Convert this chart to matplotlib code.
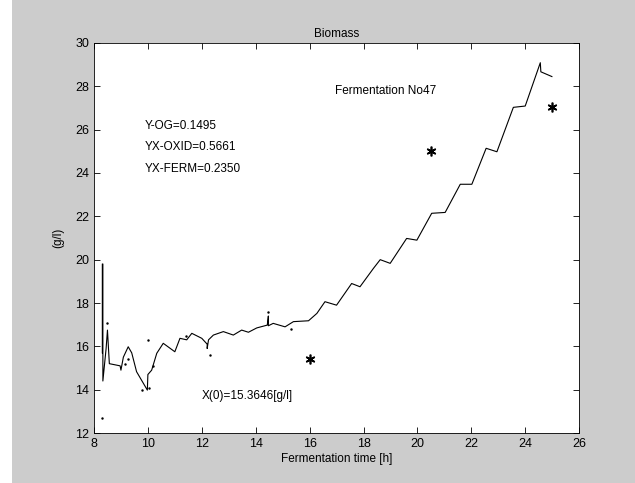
import matplotlib
matplotlib.use("Agg")
from matplotlib import pyplot as plt
from matplotlib.patches import Rectangle

plt.rcParams['font.family'] = ['Liberation Sans', 'DejaVu Sans']

# biomass trace
t = [8.31, 8.31, 8.33, 8.33, 8.45, 8.5, 8.57, 8.97, 9.0, 9.09, 9.27, 9.4, 9.58, 9.98, 10.0,
     10.14, 10.33, 10.57, 11.0, 11.19, 11.44, 11.63, 12.0, 12.2, 12.2, 12.25, 12.43, 12.8,
     13.17, 13.48, 13.73, 14.04, 14.43, 14.47, 14.47, 14.65, 15.09, 15.4, 15.96, 16.27,
     16.57, 17.0, 17.56, 17.87, 18.37, 18.62, 18.99, 19.6, 19.98, 20.53, 21.03, 21.59,
     22.02, 22.55, 22.95, 23.56, 24.0, 24.56, 24.58, 24.99]
x = [15.7, 19.8, 19.8, 14.4, 15.9, 16.75, 15.2, 15.1, 14.9, 15.5, 15.98, 15.7, 14.83, 13.98,
     14.7, 14.9, 15.68, 16.14, 15.75, 16.37, 16.3, 16.6, 16.37, 16.1, 15.9, 16.3, 16.52,
     16.68, 16.52, 16.75, 16.65, 16.85, 16.98, 17.4, 16.95, 17.06, 16.9, 17.14, 17.18,
     17.52, 18.06, 17.9, 18.9, 18.75, 19.6, 20.0, 19.83, 20.98, 20.9, 22.14, 22.18, 23.48,
     23.48, 25.14, 24.98, 27.03, 27.09, 29.09, 28.67, 28.45]

# scattered raw points
t_dots = [8.3, 8.5, 9.15, 9.25, 9.8, 10.0, 10.05, 10.2, 11.4, 12.3, 14.45, 15.3]
x_dots = [12.7, 17.1, 15.2, 15.4, 14.0, 16.3, 14.1, 15.1, 16.5, 15.6, 17.6, 16.8]

# offline measurements
t_off = [16.0, 20.5, 25.0]
x_off = [15.4, 25.0, 27.05]

fig = plt.figure(figsize=(6.35, 4.83), dpi=100, facecolor='#cccccc')
# white strip at the left edge of the screenshot
fig.patches.append(Rectangle((0, 0), 12 / 635, 1, transform=fig.transFigure,
                             facecolor='white', edgecolor='none'))
ax = fig.add_axes([0.148, 0.1035, 0.764, 0.8075])
ax.plot(t, x, color='black', linewidth=0.8)
ax.plot(t_dots, x_dots, '.', color='black', markersize=1.5)
ax.plot(t_off, x_off, linestyle='none', marker=(6, 2, 0), color='black',
        markersize=7, markeredgewidth=1.2)

ax.set_xlim(8, 26)
ax.set_ylim(12, 30)
ax.set_xticks(range(8, 27, 2))
ax.set_yticks(range(12, 31, 2))
ax.tick_params(direction='in', top=True, right=True, labelsize=9, length=4, width=0.6)
for s in ax.spines.values():
    s.set_linewidth(0.6)

ax.set_title("Biomass", fontsize=8.5, pad=4)
ax.set_xlabel("Fermentation time [h]", fontsize=8.5, labelpad=2)
ax.set_ylabel("(g/l)", fontsize=8.5, labelpad=8)

ax.text(9.9, 26.15, "Y-OG=0.1495", fontsize=8.5, va='center')
ax.text(9.9, 25.2, "YX-OXID=0.5661", fontsize=8.5, va='center')
ax.text(9.9, 24.2, "YX-FERM=0.2350", fontsize=8.5, va='center')
ax.text(16.95, 27.8, "Fermentation No47", fontsize=8.5, va='center')
ax.text(12.0, 13.7, "X(0)=15.3646[g/l]", fontsize=8.5, va='center')

fig.savefig("out.png", dpi=100, facecolor=fig.get_facecolor())
